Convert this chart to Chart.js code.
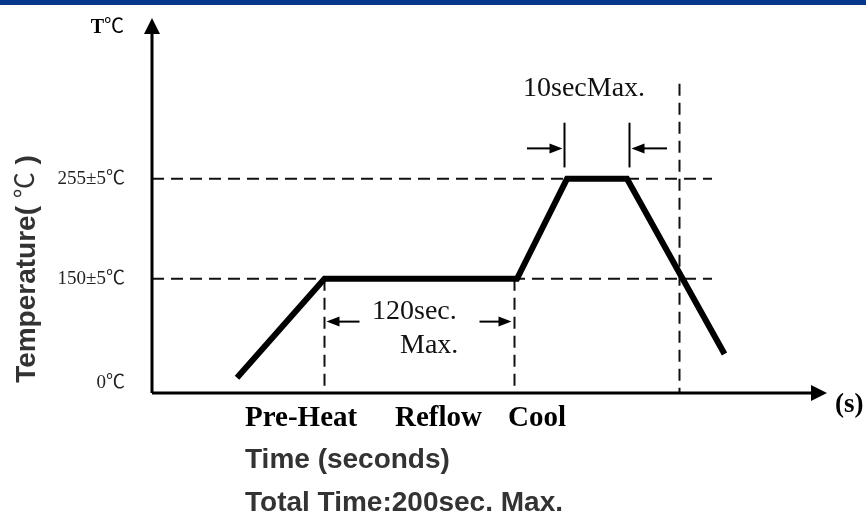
<!DOCTYPE html>
<html>
<head>
<meta charset="utf-8">
<script src="https://cdn.jsdelivr.net/npm/chart.js@4/dist/chart.umd.min.js"></script>
<style>
  html, body { margin: 0; padding: 0; background: #fff; }
  #wrap { width: 866px; height: 521px; position: relative; }
</style>
</head>
<body>
<div id="wrap"><canvas id="reflowChart" width="866" height="521"></canvas></div>
<script>
  // perfil de soldadura (esquematico, unidades de lectura del grafico)
  const profileTime = [34, 69, 146, 166, 190, 229];
  const profileTemp = [46, 150, 150, 255, 255, 71];
  const levelTemps = [150, 255];
  const levelEnd = 224;
  const phaseMarks = [69, 145, 211];
  const phaseMarkTops = [150, 150, 355];
  const yTickValues = [41, 150, 255];
  const yTickLabels = ['0℃', '150±5℃', '255±5℃'];
  const phaseLabels = ['Pre-Heat', 'Reflow', 'Cool'];
  const reflowWindow = [69, 145];   // 120sec. Max.
  const peakWindow = [165, 191];    // 10secMax.

  const serif = '"Liberation Serif", "Times New Roman", "Noto Sans CJK SC", serif';
  const sans = '"Liberation Sans", Arial, "Noto Sans CJK SC", sans-serif';

  const dashed = (data) => ({
    data, borderColor: '#111', borderWidth: 2, borderDash: [12, 7],
    pointRadius: 0, fill: false, tension: 0, order: 2
  });

  const datasets = [{
    data: profileTime.map((t, i) => ({ x: t, y: profileTemp[i] })),
    borderColor: '#000', borderWidth: 6, borderJoinStyle: 'miter', borderCapStyle: 'butt',
    pointRadius: 0, fill: false, tension: 0, order: 0
  }];
  levelTemps.forEach(v => datasets.push(dashed([{ x: 0, y: v }, { x: levelEnd, y: v }])));
  phaseMarks.forEach((m, i) => datasets.push(dashed([{ x: m, y: phaseMarkTops[i] }, { x: m, y: 30 }])));

  const arrow = (ctx, x1, y1, x2, y2, head, half) => {
    const a = Math.atan2(y2 - y1, x2 - x1);
    ctx.beginPath();
    ctx.moveTo(x1, y1);
    ctx.lineTo(x2 - Math.cos(a) * head * 0.8, y2 - Math.sin(a) * head * 0.8);
    ctx.stroke();
    ctx.beginPath();
    ctx.moveTo(x2, y2);
    ctx.lineTo(x2 - Math.cos(a) * head - Math.sin(a) * half, y2 - Math.sin(a) * head + Math.cos(a) * half);
    ctx.lineTo(x2 - Math.cos(a) * head + Math.sin(a) * half, y2 - Math.sin(a) * head - Math.cos(a) * half);
    ctx.closePath();
    ctx.fill();
  };

  // texto con tramos de distinta fuente, x = inicio
  const runs = (ctx, parts, x, y) => {
    ctx.textAlign = 'left';
    parts.forEach(([t, f]) => { ctx.font = f; ctx.fillText(t, x, y); x += ctx.measureText(t).width; });
    return x;
  };
  const runsWidth = (ctx, parts) => parts.reduce((w, [t, f]) => { ctx.font = f; return w + ctx.measureText(t).width; }, 0);

  const decor = {
    id: 'decor',
    afterDraw(chart) {
      const { ctx, chartArea: ca } = chart;
      const xs = chart.scales.x, ys = chart.scales.y;
      const X = v => xs.getPixelForValue(v), Y = v => ys.getPixelForValue(v);
      ctx.save();

      // franja azul superior
      ctx.fillStyle = '#08388c';
      ctx.fillRect(0, 0, chart.width, 5);

      // ejes con flechas
      ctx.strokeStyle = '#000'; ctx.fillStyle = '#000'; ctx.lineWidth = 3;
      arrow(ctx, ca.left, ca.bottom, ca.left, ca.top, 16, 8);
      arrow(ctx, ca.left, ca.bottom, ca.right, ca.bottom, 16, 8);

      // marcas 10 seg
      ctx.lineWidth = 2;
      peakWindow.forEach(p => {
        ctx.beginPath(); ctx.moveTo(X(p), Y(314)); ctx.lineTo(X(p), Y(267)); ctx.stroke();
      });
      arrow(ctx, X(150), Y(287), X(peakWindow[0]) - 2, Y(287), 13, 5);
      arrow(ctx, X(206), Y(287), X(peakWindow[1]) + 2, Y(287), 13, 5);
      // flechas 120 seg
      arrow(ctx, X(83), Y(105), X(reflowWindow[0]) + 2, Y(105), 13, 5);
      arrow(ctx, X(131), Y(105), X(reflowWindow[1]) - 3, Y(105), 13, 5);

      // textos
      ctx.fillStyle = '#111';
      ctx.textBaseline = 'middle';
      ctx.font = '28px ' + serif;
      ctx.textAlign = 'left';
      ctx.fillText('10secMax.', X(148.4), Y(350));
      ctx.fillText('120sec.', X(88), Y(115));
      ctx.fillText('Max.', X(99.2), Y(80));

      ctx.font = '19px ' + serif;
      ctx.fillStyle = '#222';
      ctx.textAlign = 'right';
      yTickValues.forEach((v, i) => ctx.fillText(yTickLabels[i], ca.left - 27, Y(v)));

      ctx.fillStyle = '#000';
      const tParts = [['T', 'bold 20px ' + serif], ['℃', '20px ' + serif]];
      runs(ctx, tParts, ca.left - 28 - runsWidth(ctx, tParts), 28);

      ctx.textAlign = 'left';
      ctx.font = 'bold 29px ' + serif;
      const phaseX = [245, 395, 508];
      phaseLabels.forEach((t, i) => ctx.fillText(t, phaseX[i], 419));
      ctx.font = 'bold 27px ' + serif;
      ctx.fillText('(s)', ca.right + 8, 405);

      ctx.fillStyle = '#333';
      ctx.font = 'bold 28px ' + sans;
      ctx.fillText('Time (seconds)', 245, 460);
      ctx.fillText('Total Time:200sec. Max.', 245, 503);

      // titulo eje Y rotado
      ctx.translate(27, 269);
      ctx.rotate(-Math.PI / 2);
      const yParts = [['Temperature( ', 'bold 28px ' + sans], ['℃', '26px ' + serif], [' )', 'bold 28px ' + sans]];
      runs(ctx, yParts, -runsWidth(ctx, yParts) / 2, 0);
      ctx.restore();
    }
  };

  new Chart(document.getElementById('reflowChart').getContext('2d'), {
    type: 'line',
    data: { datasets },
    options: {
      responsive: false,
      animation: false,
      layout: { padding: { left: 152, top: 18, right: 39, bottom: 128 } },
      scales: {
        x: { type: 'linear', min: 0, max: 270, display: false },
        y: { type: 'linear', min: 30, max: 424, display: false }
      },
      plugins: { legend: { display: false }, tooltip: { enabled: false } }
    },
    plugins: [decor]
  });
</script>
</body>
</html>
